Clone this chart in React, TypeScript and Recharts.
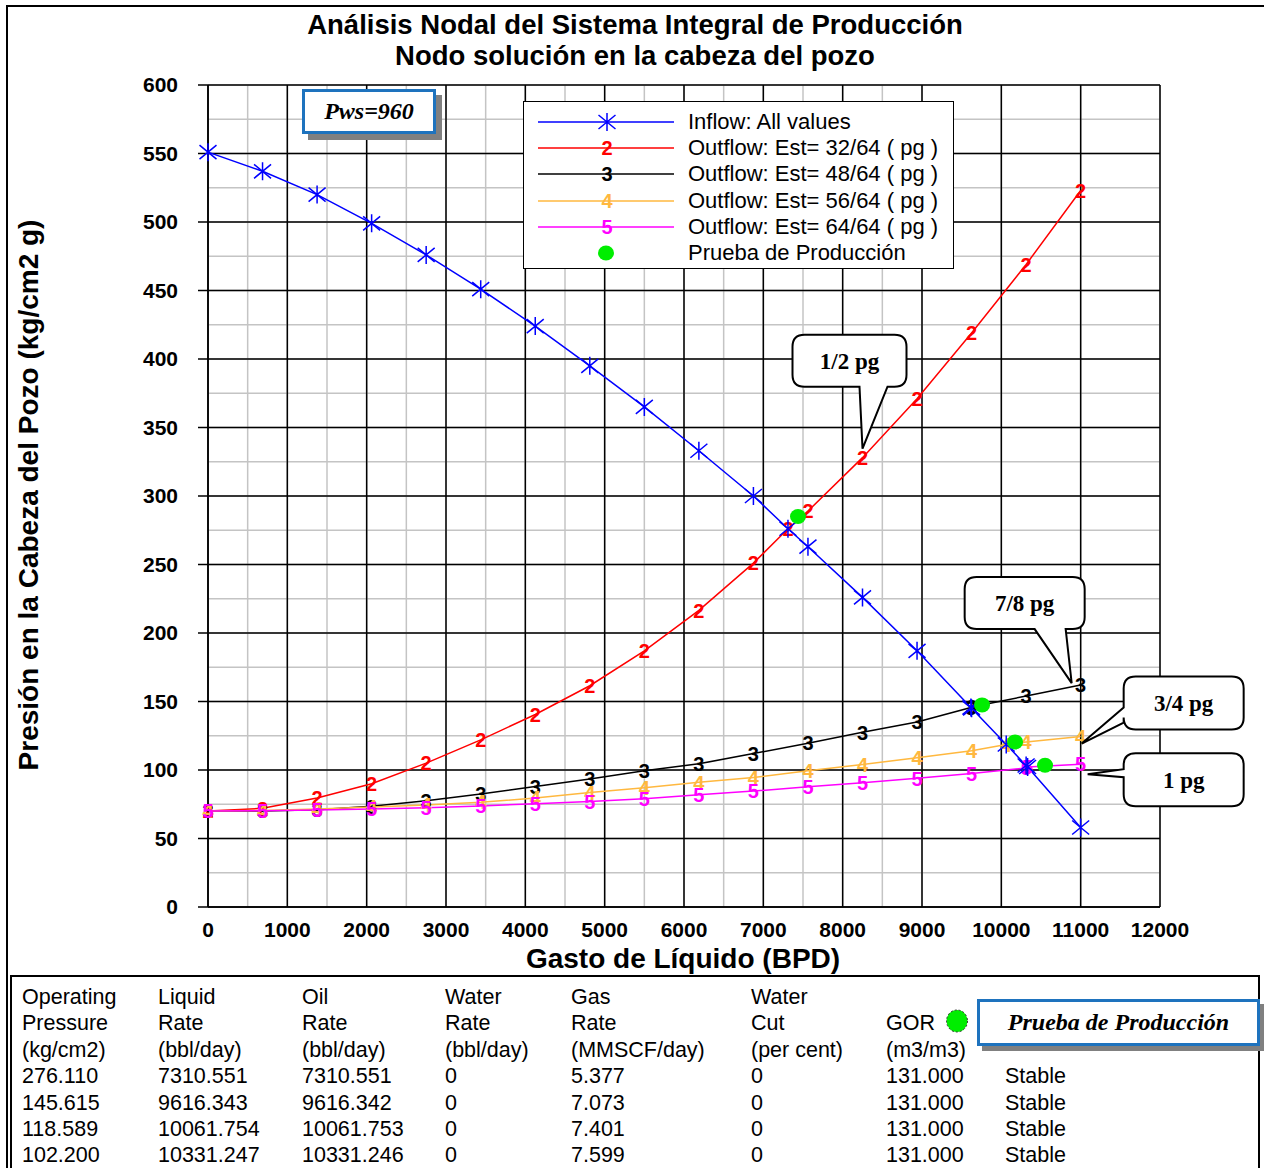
import React from "react";
import {
  ComposedChart,
  Line,
  Scatter,
  XAxis,
  YAxis,
  CartesianGrid,
  ReferenceDot,
} from "recharts";

const SANS = '"Liberation Sans", Arial, sans-serif';
const SERIF = '"Liberation Serif", "Times New Roman", serif';

// gasto de líquido (BPD) where every curve was evaluated
const baseRate = [
  0, 687.5, 1375, 2062.5, 2750, 3437.5, 4125, 4812.5, 5500, 6187.5, 6875,
  7562.5, 8250, 8937.5, 9625, 10312.5, 11000,
];

// operating (solution) points, from the table
const opRate = [7310.551, 9616.343, 10061.754, 10331.247];
const opPressure = [276.11, 145.615, 118.589, 102.2];

const inflowPressure = [
  551, 537, 520, 499, 476, 451, 424, 395, 365, 333, 300, 263, 226, 187, 145,
  103.3, 58,
];
const outflow32 = [
  70, 72, 79.5, 90, 105, 122, 140.5, 161.5, 187, 216.5, 251, 289, 328, 371,
  419, 469, 523,
];
const outflow48 = [
  70, 70, 71, 73.5, 77.5, 82.5, 88, 93.5, 99.5, 104.5, 112, 119.5, 127.5, 135,
  146, 154, 162,
];
const outflow56 = [
  70, 70.5, 71.5, 73, 74.5, 76.5, 79.5, 83.5, 87, 91, 94.5, 99.5, 104, 109,
  114, 120.5, 124.4,
];
const outflow64 = [
  70, 70.3, 70.8, 71.5, 72.5, 73.8, 75.3, 77, 79, 82, 84.6, 87.7, 90.7, 93.9,
  97.5, 101.5, 104.2,
];

// prueba de producción
const testRate = [7437, 9757, 10173, 10551];
const testPressure = [285, 147.5, 120.5, 103.5];

const xTicks = [0, 1000, 2000, 3000, 4000, 5000, 6000, 7000, 8000, 9000, 10000, 11000, 12000];
const yTicks = [0, 50, 100, 150, 200, 250, 300, 350, 400, 450, 500, 550, 600];
const xMinor = [0, 500, 1000, 1500, 2000, 2500, 3000, 3500, 4000, 4500, 5000, 5500, 6000, 6500, 7000, 7500, 8000, 8500, 9000, 9500, 10000, 10500, 11000, 11500, 12000];
const yMinor = [0, 25, 50, 75, 100, 125, 150, 175, 200, 225, 250, 275, 300, 325, 350, 375, 400, 425, 450, 475, 500, 525, 550, 575, 600];

// table
const tableHeaders = [
  ["Operating", "Pressure", "(kg/cm2)"],
  ["Liquid", "Rate", "(bbl/day)"],
  ["Oil", "Rate", "(bbl/day)"],
  ["Water", "Rate", "(bbl/day)"],
  ["Gas", "Rate", "(MMSCF/day)"],
  ["Water", "Cut", "(per cent)"],
  ["", "GOR", "(m3/m3)"],
  ["", "", ""],
];
const liquidRate = ["7310.551", "9616.343", "10061.754", "10331.247"];
const oilRate = ["7310.551", "9616.342", "10061.753", "10331.246"];
const waterRate = ["0", "0", "0", "0"];
const gasRate = ["5.377", "7.073", "7.401", "7.599"];
const waterCut = ["0", "0", "0", "0"];
const gor = ["131.000", "131.000", "131.000", "131.000"];
const status = ["Stable", "Stable", "Stable", "Stable"];

type Pt = { x: number; y: number };

function withOps(ys: number[], ops: number[]): Pt[] {
  const pts = baseRate.map((x, i) => ({ x, y: ys[i] }));
  ops.forEach((k) => pts.push({ x: opRate[k], y: opPressure[k] }));
  return pts.sort((a, b) => a.x - b.x);
}

const inflowData = withOps(inflowPressure, [0, 1, 2, 3]);
const out32Data = withOps(outflow32, [0]);
const out48Data = withOps(outflow48, [1]);
const out56Data = withOps(outflow56, [2]);
const out64Data = withOps(outflow64, [3]);
const testData = testRate.map((x, i) => ({ x, y: testPressure[i] }));

const BLUE = "#0000ff";
const RED = "#ff0000";
const BLACK = "#000000";
const ORANGE = "#ffb83f";
const MAGENTA = "#ff00ff";
const GREEN = "#00ee00";

const MARK_SIZE = 20;

function starPath(cx: number, cy: number) {
  return `M${cx},${cy - 9}V${cy + 9}M${cx - 8.5},${cy - 7}L${cx + 8.5},${cy + 7}M${cx - 8.5},${cy + 7}L${cx + 8.5},${cy - 7}`;
}

const starDot = (props: any) => (
  <path key={props.index} d={starPath(props.cx, props.cy)} stroke={BLUE} strokeWidth={1.5} fill="none" />
);

const digitDot = (digit: string, color: string) => (props: any) => (
  <text
    key={props.index}
    x={props.cx}
    y={props.cy}
    dy="0.36em"
    textAnchor="middle"
    fill={color}
    fontSize={MARK_SIZE}
    fontWeight="bold"
    fontFamily={SANS}
  >
    {digit}
  </text>
);

const greenDot = (props: any) => <ellipse cx={props.cx} cy={props.cy} rx={8} ry={7.5} fill={GREEN} />;

function calloutPath(L: number, T: number, R: number, B: number, side: string, b1: number, b2: number, tx: number, ty: number) {
  const r = 12;
  let d = `M${L + r},${T} H${R - r} Q${R},${T} ${R},${T + r} V${B - r} Q${R},${B} ${R - r},${B}`;
  if (side === "bottom") d += ` H${b2} L${tx},${ty} L${b1},${B}`;
  d += ` H${L + r} Q${L},${B} ${L},${B - r}`;
  if (side === "left") d += ` V${b2} L${tx},${ty} L${L},${b1}`;
  d += ` V${T + r} Q${L},${T} ${L + r},${T} Z`;
  return d;
}

type CalloutSpec = {
  text: string;
  box: [number, number, number, number];
  side: string;
  base: [number, number];
  tip: [number, number];
};

const callouts: { x: number; y: number; spec: CalloutSpec }[] = [
  { x: baseRate[12], y: outflow32[12], spec: { text: "1/2 pg", box: [-70, -123, 44, -71], side: "bottom", base: [-3, 25], tip: [0, -9] } },
  { x: baseRate[16], y: outflow48[16], spec: { text: "7/8 pg", box: [-116, -108, 4, -56], side: "bottom", base: [-46, -15], tip: [-9, -2] } },
  { x: baseRate[16], y: outflow56[16], spec: { text: "3/4 pg", box: [43, -60, 163, -7], side: "left", base: [-29, -14], tip: [1, 7] } },
  { x: baseRate[16], y: outflow64[16], spec: { text: "1 pg", box: [43, -11, 163, 42], side: "left", base: [5, 13], tip: [7, 10] } },
];

function Callout({ cx, cy, spec }: { cx: number; cy: number; spec: CalloutSpec }) {
  const [l, t, r, b] = spec.box;
  const L = cx + l, T = cy + t, R = cx + r, B = cy + b;
  const isBottom = spec.side === "bottom";
  const b1 = (isBottom ? cx : cy) + spec.base[0];
  const b2 = (isBottom ? cx : cy) + spec.base[1];
  return (
    <g>
      <path d={calloutPath(L, T, R, B, spec.side, b1, b2, cx + spec.tip[0], cy + spec.tip[1])} fill="#fff" stroke="#000" strokeWidth={2} />
      <text x={(L + R) / 2} y={(T + B) / 2} dy="0.35em" textAnchor="middle" fontFamily={SERIF} fontWeight="bold" fontSize={23} fill="#000">
        {spec.text}
      </text>
    </g>
  );
}

const legendItems = [
  { label: "Inflow: All values", color: BLUE, mark: "star" },
  { label: "Outflow: Est= 32/64 ( pg )", color: RED, mark: "2" },
  { label: "Outflow: Est= 48/64 ( pg )", color: BLACK, mark: "3" },
  { label: "Outflow: Est= 56/64 ( pg )", color: ORANGE, mark: "4" },
  { label: "Outflow: Est= 64/64 ( pg )", color: MAGENTA, mark: "5" },
  { label: "Prueba de Producción", color: GREEN, mark: "dot" },
];

function LegendBox() {
  return (
    <div style={{ position: "absolute", left: 523, top: 101, width: 429, height: 166, border: "1.5px solid #000", background: "#fff" }}>
      {legendItems.map((it, i) => (
        <div key={it.label} style={{ position: "absolute", left: 0, top: 7 + i * 26.2, height: 26, width: 429 }}>
          <svg width={160} height={26} style={{ position: "absolute", left: 0, top: 0 }}>
            {it.mark !== "dot" && <line x1={14} x2={150} y1={13} y2={13} stroke={it.color} strokeWidth={1.5} />}
            {it.mark === "star" && <path d={starPath(83, 13)} stroke={BLUE} strokeWidth={1.5} fill="none" />}
            {it.mark === "dot" && <ellipse cx={82} cy={13} rx={8} ry={7.5} fill={GREEN} />}
            {it.mark !== "star" && it.mark !== "dot" && (
              <text x={83} y={13} dy="0.36em" textAnchor="middle" fill={it.color} fontSize={MARK_SIZE} fontWeight="bold" fontFamily={SANS}>
                {it.mark}
              </text>
            )}
          </svg>
          <div style={{ position: "absolute", left: 164, top: 0, lineHeight: "26px", fontSize: 22, fontFamily: SANS, whiteSpace: "nowrap", color: "#000" }}>
            {it.label}
          </div>
        </div>
      ))}
    </div>
  );
}

const colX = [22, 158, 302, 445, 571, 751, 886, 1005];
const rowY = [997, 1023, 1050, 1076, 1103, 1129, 1155];

function DataTable() {
  const rows = opPressure.map((p, i) => [
    p.toFixed(3), liquidRate[i], oilRate[i], waterRate[i], gasRate[i], waterCut[i], gor[i], status[i],
  ]);
  const cells: { x: number; y: number; t: string }[] = [];
  tableHeaders.forEach((col, c) => col.forEach((t, r) => t && cells.push({ x: colX[c], y: rowY[r], t })));
  rows.forEach((row, r) => row.forEach((t, c) => cells.push({ x: colX[c], y: rowY[r + 3], t })));
  return (
    <>
      <div style={{ position: "absolute", left: 10, top: 975, width: 1246, height: 300, border: "2px solid #000" }} />
      {cells.map((c, i) => (
        <div key={i} style={{ position: "absolute", left: c.x, top: c.y - 13, lineHeight: "26px", fontSize: 21.5, fontFamily: SANS, whiteSpace: "nowrap", color: "#000" }}>
          {c.t}
        </div>
      ))}
      <svg width={26} height={26} style={{ position: "absolute", left: 944, top: 1008 }}>
        <ellipse cx={13} cy={13} rx={10.5} ry={11} fill={GREEN} stroke="#333" strokeWidth={1} strokeDasharray="2 2" />
      </svg>
      <div style={{ position: "absolute", left: 977, top: 999, width: 277, height: 41, border: "3px solid #1e73be", boxShadow: "5px 5px 0 #808080", background: "#fff", textAlign: "center", lineHeight: "41px", fontFamily: SERIF, fontWeight: "bold", fontStyle: "italic", fontSize: 24 }}>
        Prueba de Producción
      </div>
    </>
  );
}

export default function App() {
  const tickStyle = { fill: "#000", fontSize: 21, fontWeight: "bold", fontFamily: SANS };
  return (
    <div style={{ position: "absolute", left: 0, top: 0, width: 1264, height: 1168, background: "#fff", overflow: "hidden" }}>
      <div style={{ position: "absolute", left: 6, top: 5, width: 1400, height: 1300, borderTop: "2px solid #000", borderLeft: "2px solid #000" }} />

      <div style={{ position: "absolute", left: 0, top: 0 }}>
        <ComposedChart width={1264} height={975} margin={{ top: 85, right: 104, bottom: 28, left: 8 }}>
          <CartesianGrid stroke="#c4c4c4" strokeWidth={1.5} verticalValues={xMinor} horizontalValues={yMinor} />
          <CartesianGrid stroke="#000" strokeWidth={1.5} verticalValues={xTicks} horizontalValues={yTicks} />
          <XAxis
            type="number"
            dataKey="x"
            domain={[0, 12000]}
            ticks={xTicks}
            height={40}
            tickLine={false}
            tickSize={0}
            tickMargin={15}
            axisLine={{ stroke: "#000", strokeWidth: 1.5 }}
            tick={tickStyle}
          />
          <YAxis
            type="number"
            dataKey="y"
            domain={[0, 600]}
            ticks={yTicks}
            width={200}
            tickSize={10}
            tickMargin={20}
            tickLine={{ stroke: "#000", strokeWidth: 1.5 }}
            axisLine={{ stroke: "#000", strokeWidth: 1.5 }}
            tick={tickStyle}
          />
          <Line data={out32Data} dataKey="y" stroke={RED} strokeWidth={1.5} dot={digitDot("2", RED)} activeDot={false} isAnimationActive={false} />
          <Line data={out48Data} dataKey="y" stroke={BLACK} strokeWidth={1.5} dot={digitDot("3", BLACK)} activeDot={false} isAnimationActive={false} />
          <Line data={out56Data} dataKey="y" stroke={ORANGE} strokeWidth={1.5} dot={digitDot("4", ORANGE)} activeDot={false} isAnimationActive={false} />
          <Line data={out64Data} dataKey="y" stroke={MAGENTA} strokeWidth={1.5} dot={digitDot("5", MAGENTA)} activeDot={false} isAnimationActive={false} />
          <Line data={inflowData} dataKey="y" stroke={BLUE} strokeWidth={1.5} dot={starDot} activeDot={false} isAnimationActive={false} />
          <Scatter data={testData} dataKey="y" shape={greenDot} isAnimationActive={false} />
          {callouts.map((c, i) => (
            <ReferenceDot key={i} x={c.x} y={c.y} r={0} ifOverflow="visible" shape={(p: any) => <Callout cx={p.cx} cy={p.cy} spec={c.spec} />} />
          ))}
        </ComposedChart>
      </div>

      <div style={{ position: "absolute", left: 0, top: 8.5, width: 1270, textAlign: "center", fontFamily: SANS, fontWeight: "bold", fontSize: 27.5, lineHeight: "31px", color: "#000" }}>
        Análisis Nodal del Sistema Integral de Producción
        <br />
        Nodo solución en la cabeza del pozo
      </div>

      <div style={{ position: "absolute", left: 29 - 350, top: 495 - 17, width: 700, height: 34, lineHeight: "34px", textAlign: "center", transform: "rotate(-90deg)", fontFamily: SANS, fontWeight: "bold", fontSize: 28, color: "#000", whiteSpace: "nowrap" }}>
        Presión en la Cabeza del Pozo (kg/cm2 g)
      </div>

      <div style={{ position: "absolute", left: 683 - 300, top: 959 - 17, width: 600, lineHeight: "34px", textAlign: "center", fontFamily: SANS, fontWeight: "bold", fontSize: 28, color: "#000" }}>
        Gasto de Líquido (BPD)
      </div>

      <div style={{ position: "absolute", left: 302, top: 89, width: 128, height: 39, border: "3px solid #1e73be", boxShadow: "6px 6px 0 #808080", background: "#fff", textAlign: "center", lineHeight: "39px", fontFamily: SERIF, fontWeight: "bold", fontStyle: "italic", fontSize: 24 }}>
        Pws=960
      </div>

      <LegendBox />
      <DataTable />
    </div>
  );
}
